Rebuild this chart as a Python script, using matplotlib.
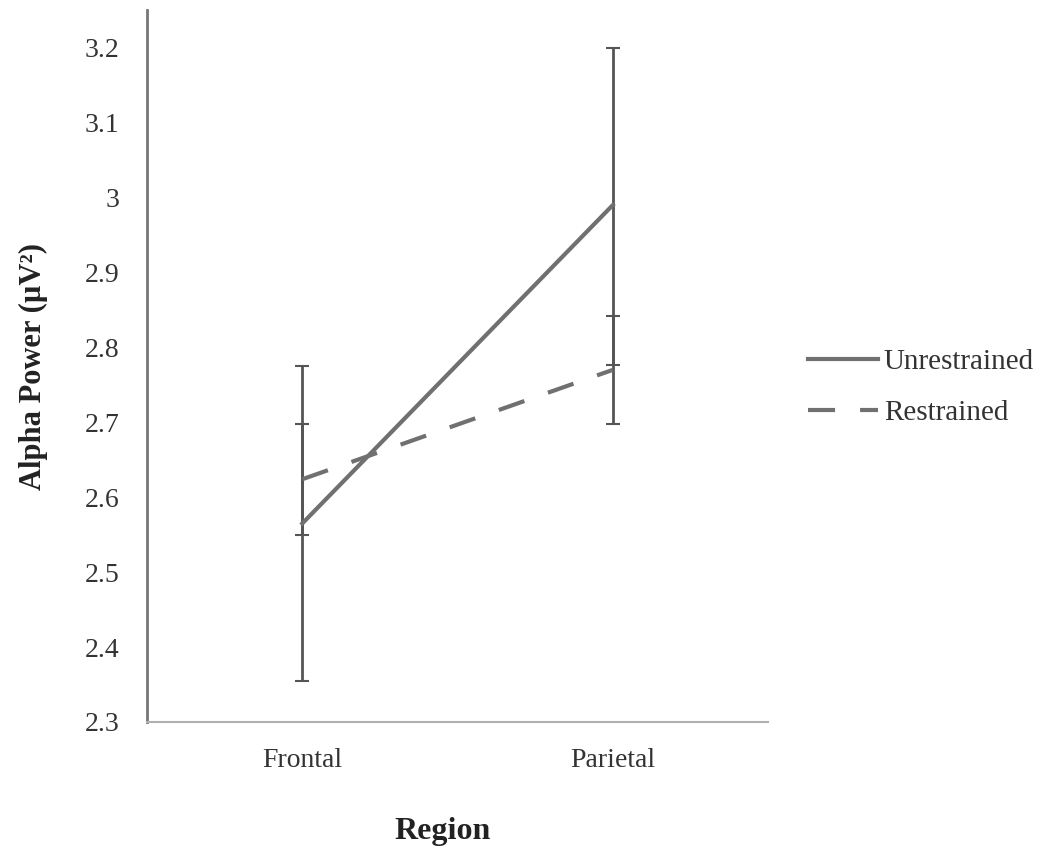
import numpy as np
import matplotlib
matplotlib.use('Agg')
import matplotlib.pyplot as plt

plt.rcParams['font.family'] = ['Liberation Serif', 'DejaVu Serif']

# data
regions = ['Frontal', 'Parietal']
unrestrained = [2.565, 2.990]
unrestrained_lo = [2.355, 2.777]
unrestrained_hi = [2.775, 3.200]
restrained = [2.624, 2.770]
restrained_lo = [2.550, 2.698]
restrained_hi = [2.698, 2.842]

x = np.arange(len(regions))

fig = plt.figure(figsize=(10.58, 8.51), dpi=100)
ax = fig.add_axes([0.139, 0.1516, 0.587, 0.8364])

u = np.array(unrestrained)
r = np.array(restrained)
u_err = [u - np.array(unrestrained_lo), np.array(unrestrained_hi) - u]
r_err = [r - np.array(restrained_lo), np.array(restrained_hi) - r]

ax.errorbar(x, u, yerr=u_err, color='#707070', lw=3, ecolor='#555555',
            elinewidth=2, capsize=5, capthick=1.5, label='Unrestrained', zorder=3)
ax.errorbar(x, r, yerr=r_err, color='#707070', lw=3, ls=(0, (6.5, 6)), ecolor='#555555',
            elinewidth=2, capsize=5, capthick=1.5, label='Restrained', zorder=3)

ax.set_xlim(-0.5, 1.5)
ax.set_ylim(2.3, 3.25)
ax.set_yticks(np.arange(2.3, 3.21, 0.1))
ax.set_yticklabels(['2.3', '2.4', '2.5', '2.6', '2.7', '2.8', '2.9', '3', '3.1', '3.2'])
ax.set_xticks(x)
ax.set_xticklabels(regions)
ax.tick_params(axis='both', length=0, labelsize=20, colors='#333333')
ax.tick_params(axis='y', pad=20)
ax.tick_params(axis='x', pad=19)

for s in ['top', 'right']:
    ax.spines[s].set_visible(False)
ax.spines['left'].set_color('#777777')
ax.spines['left'].set_linewidth(2)
ax.spines['bottom'].set_color('#b0b0b0')
ax.spines['bottom'].set_linewidth(1.5)

ax.set_ylabel('Alpha Power (µV²)', fontsize=22, fontweight='bold', color='#222222')
ax.yaxis.set_label_coords(-0.16, 0.5)
ax.set_xlabel('Region', fontsize=23, fontweight='bold', color='#222222')
ax.xaxis.set_label_coords(0.476, -0.133)

handles, labels = ax.get_legend_handles_labels()
handles = [h[0] for h in handles]
ax.legend(handles, labels, loc='center left', bbox_to_anchor=(1.022, 0.47), frameon=False,
          fontsize=21, handlelength=2.4, handletextpad=0.2, labelspacing=0.85,
          labelcolor='#333333')

fig.savefig('out.png', dpi=100)
